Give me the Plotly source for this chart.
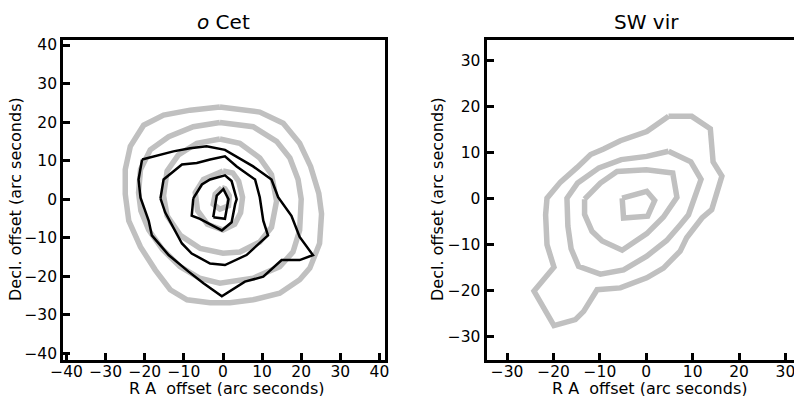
import plotly.graph_objects as go

# ---------------- data (arc seconds) ----------------
# o Cet : grey contours (outer -> inner)
oc_g1_x = [-0.8, -8.4, -15.2, -20.3, -23.7, -25.0, -25.0, -24.1, -21.1, -17.3, -13.5, -9.2, -3.3, 1.8, 7.7, 14.5, 19.6, 22.2, 24.7, 25.2, 24.5, 22.4, 19.6, 15.4, 9.4]
oc_g1_y = [23.9, 23.1, 21.8, 19.2, 13.7, 7.7, 1.3, -5.6, -12.4, -18.4, -23.5, -26.1, -26.9, -26.9, -26.1, -24.4, -20.9, -17.9, -11.5, -3.8, 1.5, 8.5, 14.5, 19.7, 22.6]
oc_g2_x = [-0.8, -7.6, -13.9, -18.6, -21.1, -21.6, -21.0, -19.0, -15.5, -11.0, -6.0, -0.8, 7.7, 14.5, 17.9, 19.6, 20.0, 19.2, 17.1, 13.7, 7.7]
oc_g2_y = [19.9, 18.8, 16.2, 12.8, 7.7, 1.7, -3.0, -8.0, -13.0, -17.5, -20.5, -21.8, -20.5, -17.5, -13.7, -8.1, 0.0, 5.1, 10.7, 15.0, 18.8]
oc_g3_x = [-0.8, -6.7, -11.4, -14.3, -15.2, -14.3, -10.9, -5.8, 0.0, 4.3, 9.4, 12.4, 13.7, 12.4, 9.4, 4.3]
oc_g3_y = [15.6, 14.5, 11.5, 7.3, 0.9, -4.3, -9.4, -12.8, -14.0, -13.7, -11.1, -7.3, -0.5, 6.4, 10.7, 14.5]
oc_g4_x = [0.0, -5.0, -7.1, -6.5, -4.0, 0.0, 3.0, 4.5, 5.0, 4.0, 2.5]
oc_g4_y = [7.3, 5.1, 1.7, -3.0, -6.5, -8.0, -6.5, -3.5, 0.5, 4.7, 6.8]
oc_g5_x = [-0.3, -2.0, -2.5, -0.8, 1.4, 1.6, 0.5]
oc_g5_y = [3.0, 1.3, -1.3, -2.6, -1.7, 0.9, 2.7]

# o Cet : black contours (outer -> inner)
oc_k1_x = [-20.7, -16.1, -12.7, -8.4, -4.2, 0.5, 7.7, 12.4, 14.1, 17.5, 19.6, 23.0, 19.6, 15.0, 10.3, 5.6, -0.3, -5.0, -8.8, -13.9, -18.2, -19.0, -21.1, -21.6]
oc_k1_y = [10.3, 11.5, 12.4, 13.2, 13.7, 12.8, 8.5, 5.1, 0.5, -4.3, -9.8, -14.5, -15.8, -15.8, -20.1, -21.4, -25.2, -21.8, -18.8, -14.5, -9.4, -5.6, 0.4, 5.1]
oc_k2_x = [-16.0, -15.2, -10.5, -6.7, -3.3, 0.5, 3.5, 8.2, 9.4, 10.3, 11.5, 6.0, 0.5, -3.3, -8.0, -10.5, -14.8]
oc_k2_y = [0.2, 5.1, 9.0, 9.4, 10.3, 11.1, 8.5, 5.1, 0.5, -5.6, -9.4, -14.5, -17.1, -16.7, -14.1, -11.5, -3.4]
oc_k3_x = [-7.6, -5.4, -3.3, 0.5, 2.2, 3.5, 3.1, 2.2, -0.3, -5.9, -8.0]
oc_k3_y = [0.2, 3.8, 5.1, 6.2, 4.7, 0.0, -1.3, -6.0, -8.1, -5.1, -4.3]
oc_k4_x = [-2.5, -1.6, 0.1, 1.4, 0.5]
oc_k4_y = [-4.7, 0.9, 2.6, 0.0, -5.1]

# SW vir : grey contours (outer -> inner)
sw_g1_x = [4.8, 9.8, 13.8, 14.1, 14.4, 16.3, 15.2, 14.1, 12.0, 10.2, 8.7, 7.3, 3.7, 0.1, -5.6, -10.6, -13.5, -15.3, -19.9, -24.2, -19.9, -21.4, -21.7, -21.4, -18.5, -14.9, -12.0, -9.2, -5.6, 0.1]
sw_g1_y = [17.9, 17.9, 15.2, 12.1, 8.0, 4.9, 1.2, -2.4, -4.2, -6.7, -8.5, -11.4, -15.1, -17.2, -19.4, -19.8, -24.5, -26.3, -27.6, -20.1, -14.9, -10.0, -3.5, 0.1, 3.6, 6.8, 9.6, 10.8, 12.6, 14.6]
sw_g2_x = [4.8, 9.6, 11.8, 10.6, 9.1, 7.3, 4.4, 0.1, -4.9, -9.9, -14.6, -16.2, -16.9, -17.1, -14.8, -10.2, -5.4, 0.1]
sw_g2_y = [10.3, 8.0, 4.2, 0.5, -3.5, -5.7, -9.1, -12.5, -15.5, -16.4, -14.7, -10.9, -6.0, 0.1, 3.4, 6.7, 8.5, 9.2]
sw_g3_x = [-13.3, -9.9, -6.3, 0.0, 5.7, 6.6, 3.7, 0.1, -5.2, -9.5, -11.7, -13.3]
sw_g3_y = [-0.1, 3.4, 5.9, 6.3, 5.6, 0.3, -4.0, -7.6, -11.2, -9.2, -7.1, -3.4]
sw_g4_x = [-5.2, 0.1, 1.8, 0.3, -4.9]
sw_g4_y = [0.1, 1.6, -0.4, -3.8, -4.2]

ticks_left = [-40, -30, -20, -10, 0, 10, 20, 30, 40]
ticks_right = [-30, -20, -10, 0, 10, 20, 30]

GREY = "#c0c0c0"
FONT = "DejaVu Sans"

fig = go.Figure()


def add_contour(xs, ys, color, width, xa, ya):
    fig.add_trace(go.Scatter(x=list(xs) + [xs[0]], y=list(ys) + [ys[0]], mode="lines",
                             line=dict(color=color, width=width), xaxis=xa, yaxis=ya,
                             hoverinfo="skip", showlegend=False))


for xs, ys in [(oc_g1_x, oc_g1_y), (oc_g2_x, oc_g2_y), (oc_g3_x, oc_g3_y), (oc_g4_x, oc_g4_y), (oc_g5_x, oc_g5_y)]:
    add_contour(xs, ys, GREY, 5.5, "x", "y")
for xs, ys in [(oc_k1_x, oc_k1_y), (oc_k2_x, oc_k2_y), (oc_k3_x, oc_k3_y), (oc_k4_x, oc_k4_y)]:
    add_contour(xs, ys, "black", 2.5, "x", "y")
for xs, ys in [(sw_g1_x, sw_g1_y), (sw_g2_x, sw_g2_y), (sw_g3_x, sw_g3_y), (sw_g4_x, sw_g4_y)]:
    add_contour(xs, ys, GREY, 5.5, "x2", "y2")

# the page body adds an 8 px offset; work in screen pixels and convert
OFF = 8
W, H = 802 - OFF, 396 - OFF


def px(sx):
    return (sx - OFF) / W


def py(sy):
    return (H - (sy - OFF)) / H


ax_common = dict(showgrid=False, zeroline=False, showline=True, linecolor="black", linewidth=3,
                 ticks="inside", ticklen=7, tickwidth=2.5, tickcolor="black", automargin=False,
                 tickfont=dict(family=FONT, size=15.5, color="black"), tickmode="array")

ydom = [py(359.5), py(40)]
fig.update_layout(
    template="none",
    width=W, height=H, margin=dict(l=0, r=0, t=0, b=0, pad=0, autoexpand=False),
    paper_bgcolor="white", plot_bgcolor="white", showlegend=False,
    xaxis=dict(ax_common, domain=[px(63.2), px(384.5)], range=[-40.87, 41.3], tickvals=ticks_left,
               mirror=True, anchor="y", ticklabelstandoff=-4),
    yaxis=dict(ax_common, domain=ydom, range=[-41.6, 41.3], tickvals=ticks_left, mirror=True, anchor="x"),
    xaxis2=dict(ax_common, domain=[px(486.5), 1.0], range=[-34.44, 33.56], tickvals=ticks_right,
                mirror=True, anchor="y2", ticklabelstandoff=-4),
    yaxis2=dict(ax_common, domain=ydom, range=[-34.97, 34.5], tickvals=ticks_right, mirror=False, anchor="x2"),
)

ann = [
    dict(text="<i>o</i> Cet", x=px(223), y=py(22), size=20, angle=0),
    dict(text="SW vir", x=px(646.5), y=py(22), size=20, angle=0),
    dict(text="R A&nbsp; offset (arc seconds)", x=px(226), y=py(388), size=16, angle=0),
    dict(text="R A&nbsp; offset (arc seconds)", x=px(649), y=py(388), size=16, angle=0),
    dict(text="Decl. offset (arc seconds)", x=px(15), y=py(199), size=16, angle=-90),
    dict(text="Decl. offset (arc seconds)", x=px(437), y=py(199), size=16, angle=-90),
]
for a in ann:
    fig.add_annotation(text=a["text"], x=a["x"], y=a["y"], xref="paper", yref="paper",
                       xanchor="center", yanchor="middle", showarrow=False, textangle=a["angle"],
                       font=dict(family=FONT, size=a["size"], color="black"))

fig.write_html("out.html")
